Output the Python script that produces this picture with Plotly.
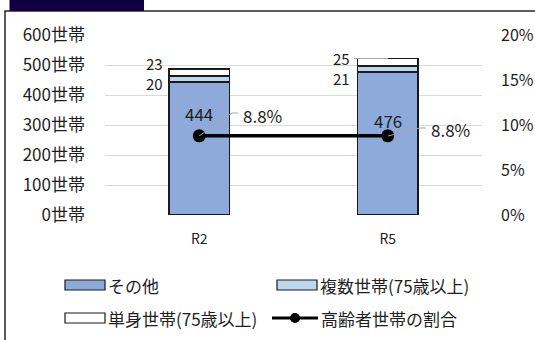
import plotly.graph_objects as go

# 世帯数の推移（単位：世帯）
categories = ["R2", "R5"]
other = [444, 476]            # その他
multi_75 = [20, 21]           # 複数世帯(75歳以上)
single_75 = [23, 25]          # 単身世帯(75歳以上)
elderly_ratio = [0.088, 0.088]  # 高齢者世帯の割合

left_ticks = [0, 100, 200, 300, 400, 500, 600]
left_labels = [f"{v}世帯" for v in left_ticks]
right_ticks = [0, 0.05, 0.10, 0.15, 0.20]
right_labels = ["0%", "5%", "10%", "15%", "20%"]

FONT = "Noto Sans CJK JP"
INK = "#1e1e1e"
W, H = 535, 340
L, R, T, B = 105, 482, 35, 215  # plot area in pixels


def px(x):
    return (x - L) / (R - L)


def py(y):
    return (B - y) / (B - T)


fig = go.Figure()
bar_line = dict(color="#1a1a1a", width=1.5)
fig.add_trace(go.Bar(x=categories, y=other, name="その他",
                     marker=dict(color="#8eaadb", line=bar_line)))
fig.add_trace(go.Bar(x=categories, y=multi_75, name="複数世帯(75歳以上)",
                     marker=dict(color="#bdd7ee", line=bar_line)))
fig.add_trace(go.Bar(x=categories, y=single_75, name="単身世帯(75歳以上)",
                     marker=dict(color="#ffffff", line=bar_line)))
fig.add_trace(go.Scatter(x=categories, y=elderly_ratio, name="高齢者世帯の割合",
                         yaxis="y2", mode="lines+markers",
                         line=dict(color="#000000", width=3.5),
                         marker=dict(color="#000000", size=13)))

annotations = []
shapes = []
txt = dict(family=FONT, size=17, color=INK)

# その他 values inside the bars
for cat, v, ypix in zip(categories, other, [113, 120]):
    annotations.append(dict(x=cat, y=(B - ypix) / (B - T) * 600, xref="x", yref="y",
                            text=str(v), showarrow=False, font=txt))

# small segment values stacked to the left of each bar
seg_pos = [(164, 73.5), (351, 68.5)]
for (xr, ymid), m, s in zip(seg_pos, multi_75, single_75):
    annotations.append(dict(x=px(xr), y=py(ymid), xref="paper", yref="paper",
                            xanchor="right", yanchor="middle", align="right",
                            text=f"{s}<br>{m}", showarrow=False, borderpad=0,
                            font=dict(family=FONT, size=15, color=INK)))

# leader from R5 single-household label to its segment
shapes.append(dict(type="line", xref="paper", yref="paper",
                   x0=px(354), y0=py(58.5), x1=px(388), y1=py(58.5),
                   line=dict(color="#a6a6a6", width=1)))

# ratio labels with leader lines
ratio_pos = [((199, 136), (232, 113), (238, 113), 241, 115),
             ((388, 136), (420, 128), (426, 128), 429, 129)]
for (p0, p1, p2, tx, ty), r in zip(ratio_pos, elderly_ratio):
    shapes.append(dict(type="path", xref="paper", yref="paper",
                       path=f"M {px(p0[0])},{py(p0[1])} L {px(p1[0])},{py(p1[1])} L {px(p2[0])},{py(p2[1])}",
                       line=dict(color="#a6a6a6", width=1)))
    annotations.append(dict(x=px(tx), y=py(ty), xref="paper", yref="paper",
                            xanchor="left", text=f"{r * 100:.1f}%", showarrow=False, font=txt))

# outer frame and title tab
shapes.append(dict(type="rect", xref="paper", yref="paper",
                   x0=px(5), y0=py(11), x1=px(545), y1=py(350),
                   line=dict(color="#262626", width=1.5), layer="below"))
shapes.append(dict(type="rect", xref="paper", yref="paper",
                   x0=px(9.5), y0=py(-5), x1=px(144), y1=py(11),
                   fillcolor="#10003f", line=dict(width=0)))

# legend drawn by hand
leg_font = dict(family=FONT, size=17, color=INK)
legend_items = [
    ("rect", "#8eaadb", "その他", 65, 285),
    ("rect", "#bdd7ee", "複数世帯(75歳以上)", 277, 285),
    ("rect", "#ffffff", "単身世帯(75歳以上)", 65, 318),
    ("line", "#000000", "高齢者世帯の割合", 272, 318),
]
for kind, col, label, x0, yc in legend_items:
    if kind == "rect":
        shapes.append(dict(type="rect", xref="paper", yref="paper",
                           x0=px(x0), y0=py(yc + 5), x1=px(x0 + 40), y1=py(yc - 5),
                           fillcolor=col, line=dict(color="#1a1a1a", width=1.2)))
        tx = x0 + 41
    else:
        shapes.append(dict(type="line", xref="paper", yref="paper",
                           x0=px(x0), y0=py(yc), x1=px(x0 + 46), y1=py(yc),
                           line=dict(color=col, width=3)))
        shapes.append(dict(type="circle", xref="paper", yref="paper",
                           x0=px(x0 + 18), y0=py(yc + 5), x1=px(x0 + 28), y1=py(yc - 5),
                           fillcolor=col, line=dict(width=0)))
        tx = x0 + 47
    annotations.append(dict(x=px(tx), y=py(yc), xref="paper", yref="paper",
                            xanchor="left", yanchor="middle", text=label,
                            showarrow=False, font=leg_font))

fig.update_layout(
    width=W, height=H,
    margin=dict(l=L, r=W - R, t=T, b=H - B, autoexpand=False),
    barmode="stack", bargap=0.68,
    showlegend=False,
    plot_bgcolor="#ffffff", paper_bgcolor="#ffffff",
    font=dict(family=FONT, size=17, color=INK),
    xaxis=dict(showgrid=False, showline=False, ticks="", automargin=False,
               tickfont=dict(family=FONT, size=14, color=INK), ticklabelstandoff=14),
    yaxis=dict(range=[0, 600], tickvals=left_ticks, ticktext=left_labels,
               showgrid=True, gridcolor="#d9d9d9", gridwidth=1, zeroline=False,
               showline=False, ticklabelstandoff=19, automargin=False,
               tickfont=dict(family=FONT, size=17, color=INK)),
    yaxis2=dict(range=[0, 0.2], tickvals=right_ticks, ticktext=right_labels,
                overlaying="y", side="right", showgrid=False, zeroline=False,
                showline=False, ticklabelstandoff=18, automargin=False,
                tickfont=dict(family=FONT, size=16, color=INK)),
    shapes=shapes,
    annotations=annotations,
)

fig.write_html("out.html")
